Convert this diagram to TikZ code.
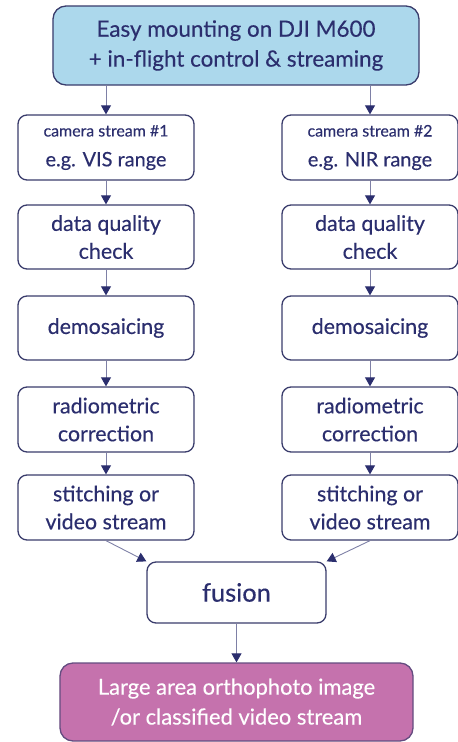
\documentclass[tikz,border=0pt]{standalone}
\usepackage{fontspec}
\setmainfont{Lato}[FakeBold=0.3]
\usetikzlibrary{arrows.meta}
\definecolor{navy}{HTML}{2B2E6E}
\definecolor{edge}{HTML}{3A3C6C}
\definecolor{shaft}{HTML}{7E80A6}
\definecolor{topfill}{HTML}{ACD8EC}
\definecolor{endfill}{HTML}{C572AD}
\begin{document}
\begin{tikzpicture}[x=1bp,y=-1bp,
  box/.style={draw=edge, line width=1.3bp, rounded corners=9bp, fill=white,
    text=navy, align=center, inner sep=0pt, minimum width=176bp},
  bigbox/.style={box, rounded corners=13bp},
  mid/.style={box, font={\fontsize{21.5}{28}\selectfont}},
  flow/.style={draw=shaft, line width=0.9bp, -{Triangle[length=9bp,width=10bp,fill=navy,color=navy]}},
]
\useasboundingbox (0,0) rectangle (458,742);
\node[bigbox, fill=topfill, minimum width=366bp, minimum height=79bp,
  font={\fontsize{22.5}{30}\selectfont}] (top) at (236,45.5)
  {Easy mounting on DJI M600\\+ in-flight control \& streaming};

\node[box, minimum height=65bp, font={\fontsize{20}{30}\selectfont}] (cam1) at (106,147.5)
  {{\fontsize{16}{20}\selectfont camera stream \#1}\\e.g. VIS range};
\node[box, minimum height=65bp, font={\fontsize{20}{30}\selectfont}] (cam2) at (370,147.5)
  {{\fontsize{16}{20}\selectfont camera stream \#2}\\e.g. NIR range};

\node[mid, minimum height=64bp] (dq1) at (106,237) {data quality\\check};
\node[mid, minimum height=64bp] (dq2) at (370,237) {data quality\\check};
\node[mid, minimum height=64bp] (dm1) at (106,328) {demosaicing};
\node[mid, minimum height=64bp] (dm2) at (370,328) {demosaicing};
\node[mid, minimum height=65bp] (rc1) at (106,419.5) {radiometric\\correction};
\node[mid, minimum height=65bp] (rc2) at (370,419.5) {radiometric\\correction};
\node[mid, minimum height=65bp] (st1) at (106,507.5) {stitching or\\video stream};
\node[mid, minimum height=65bp] (st2) at (370,507.5) {stitching or\\video stream};

\node[box, minimum width=179bp, minimum height=61bp,
  font={\fontsize{25.5}{30}\selectfont}] (fus) at (236.5,592.5) {fusion};

\node[bigbox, fill=endfill, draw=edge!70!endfill, text=white, minimum width=353bp, minimum height=78bp,
  font={\fontsize{22}{30}\selectfont}] (out) at (236.5,702)
  {Large area orthophoto image\\/or classified video stream};

\draw[flow] (top.south -| cam1.north) -- (cam1.north);
\draw[flow] (top.south -| cam2.north) -- (cam2.north);
\draw[flow] (cam1) -- (dq1);
\draw[flow] (cam2) -- (dq2);
\draw[flow] (dq1) -- (dm1);
\draw[flow] (dq2) -- (dm2);
\draw[flow] (dm1) -- (rc1);
\draw[flow] (dm2) -- (rc2);
\draw[flow] (rc1) -- (st1);
\draw[flow] (rc2) -- (st2);
\draw[flow] (st1.south) -- (fus.north west);
\draw[flow] (st2.south) -- (fus.north east);
\draw[flow] (fus) -- (out);
\end{tikzpicture}
\end{document}
